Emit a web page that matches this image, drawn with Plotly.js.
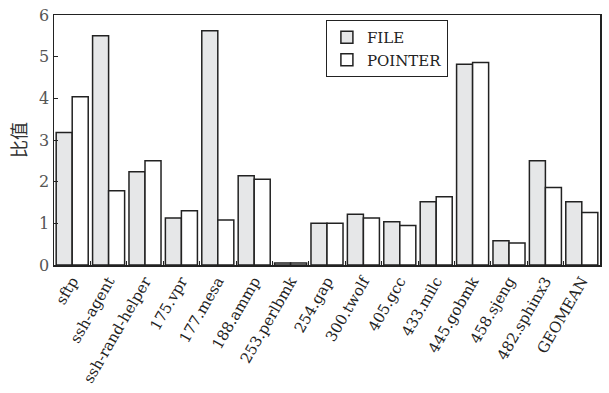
<!DOCTYPE html>
<html>
<head>
<meta charset="utf-8">
<script src="https://cdn.plot.ly/plotly-3.0.1.min.js"></script>
<style>html,body{margin:0;padding:0;background:#fff;}#chart{width:609px;height:393px;}</style>
</head>
<body>
<div id="chart"></div>
<script>
var categories = ["sftp","ssh-agent","ssh-rand-helper","175.vpr","177.mesa","188.ammp","253.perlbmk","254.gap","300.twolf","405.gcc","433.milc","445.gobmk","458.sjeng","482.sphinx3","GEOMEAN"];
var fileValues = [3.18,5.50,2.24,1.13,5.62,2.14,0.05,1.00,1.22,1.04,1.52,4.82,0.58,2.50,1.52];
var pointerValues = [4.04,1.78,2.50,1.30,1.08,2.06,0.05,1.00,1.13,0.95,1.64,4.86,0.53,1.86,1.26];
var yTicks = [0,1,2,3,4,5,6];

var serif = "DejaVu Serif";
var traces = [
  {type:"bar", name:"FILE", x:categories, y:fileValues,
   marker:{color:"#e6e7e8", line:{color:"#222", width:1.5}}},
  {type:"bar", name:"POINTER", x:categories, y:pointerValues,
   marker:{color:"#ffffff", line:{color:"#222", width:1.5}}}
];
var layout = {
  width:609, height:393,
  font:{family:serif, color:"#222"},
  margin:{l:54, r:9, t:15, b:128},
  paper_bgcolor:"#fff", plot_bgcolor:"#fff",
  barmode:"group", bargap:0.12, bargroupgap:0,
  showlegend:true,
  legend:{x:0.498, y:0.98, xanchor:"left", yanchor:"top",
    bordercolor:"#222", borderwidth:1, bgcolor:"#fff",
    font:{family:serif, size:15, color:"#222"},
    itemwidth:30, tracegroupgap:0},
  xaxis:{type:"category", tickson:"boundaries", ticks:"inside", ticklen:4,
    tickcolor:"#222", tickangle:-60, showline:true, mirror:true,
    linecolor:"#222", linewidth:1.5, showgrid:false,
    tickfont:{family:serif, size:15, color:"#222"}},
  yaxis:{range:[0,6], tickvals:yTicks, ticks:"inside", ticklen:4,
    tickcolor:"#222", showline:true, mirror:true, linecolor:"#222",
    linewidth:1.5, showgrid:false, zeroline:false,
    tickfont:{family:serif, size:16, color:"#555"},
    title:{text:"比值", font:{family:"Noto Sans CJK SC", size:18, color:"#333"}, standoff:8}}
};
Plotly.newPlot("chart", traces, layout, {displayModeBar:false, staticPlot:true});
</script>
</body>
</html>
